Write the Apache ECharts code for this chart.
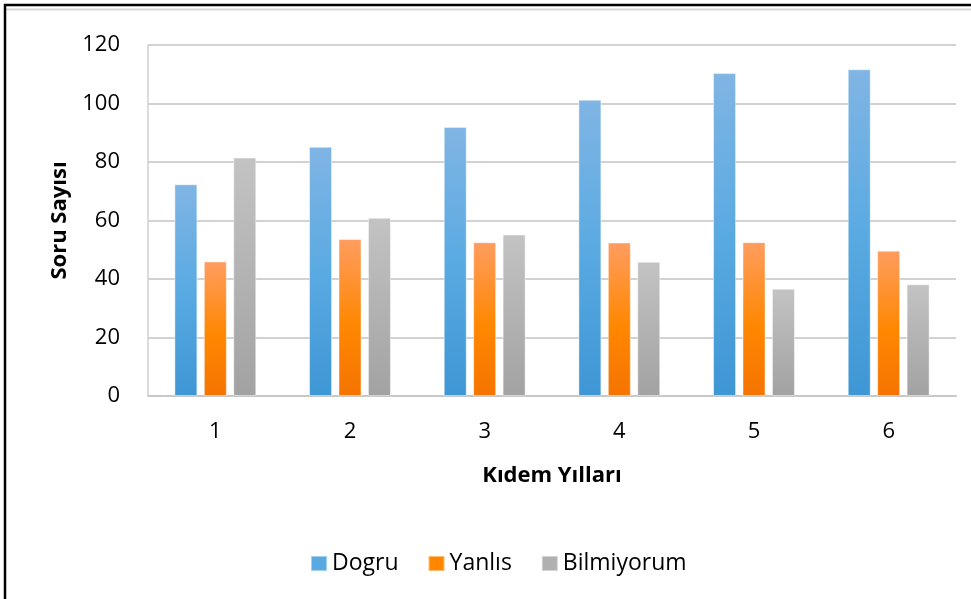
<!DOCTYPE html>
<html>
<head>
<meta charset="utf-8">
<script src="https://cdn.jsdelivr.net/npm/echarts@6/dist/echarts.min.js"></script>
<style>html,body{margin:0;padding:0;background:#fff}#c{width:971px;height:599px}</style>
</head>
<body>
<div id="c"></div>
<script>
var categories = ['1', '2', '3', '4', '5', '6'];
var dogru = [72.4, 85.2, 92.0, 101.3, 110.4, 111.7];
var yanlis = [46.0, 53.7, 52.6, 52.5, 52.6, 49.7];
var bilmiyorum = [81.5, 60.9, 55.2, 45.9, 36.7, 38.2];
var seriesNames = ['Dogru', 'Yanlıs', 'Bilmiyorum'];
var yTicks = { min: 0, max: 120, interval: 20 };

var FONT = 'Open Sans';
function grad(stops) {
  return new echarts.graphic.LinearGradient(0, 0, 0, 1, stops.map(function (s) { return { offset: s[0], color: s[1] }; }));
}
var fills = [
  grad([[0, '#80b5e4'], [0.5, '#5aaae2'], [1, '#3e96d4']]),
  grad([[0, '#ff9d60'], [0.55, '#ff8700'], [1, '#f57400']]),
  grad([[0, '#c3c3c3'], [1, '#a2a2a2']])
];
var legendColors = ['#5aaae2', '#ff8700', '#b0b0b0'];
var datas = [dogru, yanlis, bilmiyorum];

var chart = echarts.init(document.getElementById('c'), null, { renderer: 'canvas' });
chart.setOption({
  animation: false,
  backgroundColor: '#fff',
  textStyle: { fontFamily: FONT },
  grid: { left: 148, right: 15, top: 45, bottom: 203, containLabel: false },
  legend: {
    left: 305, top: 547,
    itemWidth: 16, itemHeight: 15, itemGap: 29,
    textStyle: { fontSize: 23, color: '#000', fontFamily: FONT },
    data: seriesNames.map(function (n, i) { return { name: n, icon: 'rect', itemStyle: { color: legendColors[i] } }; })
  },
  xAxis: {
    type: 'category', data: categories,
    axisLine: { lineStyle: { color: '#c8c8c8', width: 2 } },
    axisTick: { show: false },
    axisLabel: { fontSize: 22, color: '#000', margin: 25, fontFamily: FONT },
    name: 'Kıdem Yılları', nameLocation: 'middle', nameGap: 69,
    nameTextStyle: { fontSize: 22, fontWeight: 'bold', color: '#000', fontFamily: FONT }
  },
  yAxis: {
    type: 'value', min: yTicks.min, max: yTicks.max, interval: yTicks.interval,
    axisLine: { show: true, lineStyle: { color: '#d0d0d0', width: 1.5 } },
    axisTick: { show: false },
    splitLine: { lineStyle: { color: '#d2d2d2', width: 2 } },
    axisLabel: { fontSize: 22, color: '#000', margin: 28, fontFamily: FONT },
    name: 'Soru Sayısı', nameLocation: 'middle', nameGap: 77, nameRotate: 90,
    nameTextStyle: { fontSize: 22, fontWeight: 'bold', color: '#000', fontFamily: FONT }
  },
  series: seriesNames.map(function (n, i) {
    return {
      name: n, type: 'bar', data: datas[i],
      barWidth: 23, barGap: '28%',
      itemStyle: { color: fills[i], borderColor: 'rgba(255,255,255,0.45)', borderWidth: 1 }
    };
  }),
  graphic: [
    { type: 'line', shape: { x1: 4, y1: 9.5, x2: 971, y2: 9.5 }, style: { stroke: '#d6d6d6', lineWidth: 2 }, silent: true },
    { type: 'line', shape: { x1: 5, y1: 4, x2: 5, y2: 599 }, style: { stroke: '#000', lineWidth: 2.5 }, silent: true },
    { type: 'line', shape: { x1: 4, y1: 5, x2: 971, y2: 5 }, style: { stroke: '#000', lineWidth: 2.5 }, silent: true }
  ]
});
</script>
</body>
</html>
